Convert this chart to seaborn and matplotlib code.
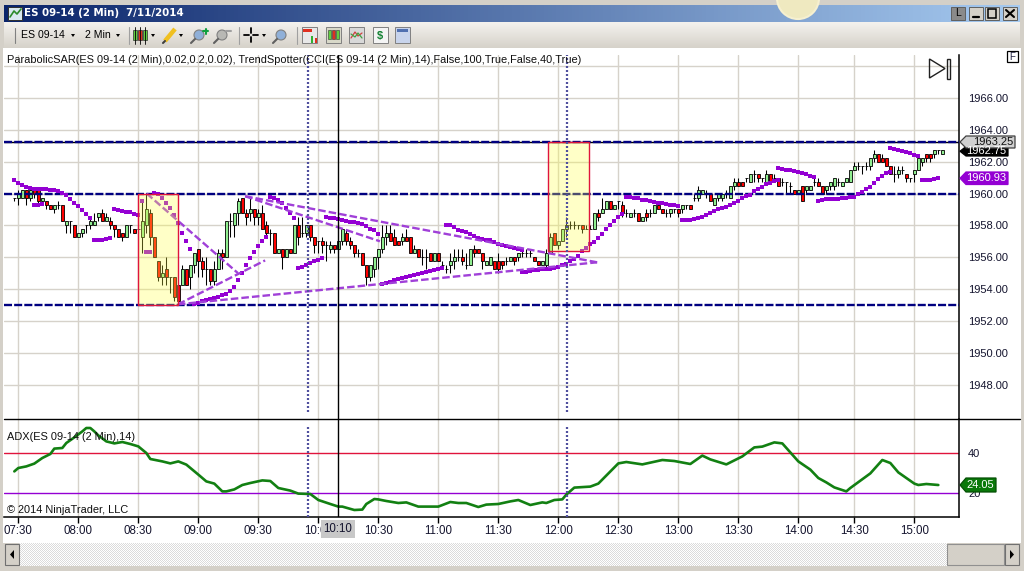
import numpy as np
import pandas as pd
import seaborn as sns
import matplotlib
matplotlib.use("Agg")
import matplotlib.pyplot as plt
from matplotlib.patches import Rectangle, Polygon, Circle

# prices are written minus 1900, one value per 2 minute bar
opens = [59.75,59.75,59.75,60.25,59.75,60.25,60.25,59.5,59.5,59.25,
         59,59.25,59.25,58,58.25,58,57.25,57.5,58,58,
         58,58.5,58.75,58.25,58.25,58,57.75,57.5,57.25,58,
         57.75,57.75,57.25,58,58.75,57.25,55.75,54.75,55.25,54.75,
         54.75,54.25,54.25,55.25,54.75,55.5,56.5,55.75,55.25,55.25,
         54.5,55.25,56.25,56,58.25,58,58.75,59.75,58.75,58.75,
         59,58.5,58.75,58,57.5,57.5,56.25,56.5,56,56.5,
         56.25,58,57.5,57.5,58,57.25,57,57,56.75,56.5,
         56.75,56.5,57,57.5,57,56.75,56.25,56.25,55.5,54.75,
         55.25,56,56.5,57.25,57.5,57.25,57,57,57.25,57.25,
         56.25,56.5,56,56,56.25,55.75,56.25,55.5,55.25,55.5,
         55.75,56,56,55.5,55.5,56.5,56.5,56.25,55.5,55.5,
         55.75,55.75,55.75,55.75,55.75,56,56,56.25,56.25,56.25,
         56,55.75,55.5,55.5,56.25,57.5,56.75,57,57.75,58,
         58,58,58,57.75,57.75,57.75,58.75,58.75,59,59.5,
         59,59.5,59.25,58.75,58.5,58.75,58.75,58.25,58.75,58.75,
         58.75,59.25,59,58.75,58.75,59,59,59,59.25,59.25,
         59.75,59.75,60,60,60,59.25,59.75,59.75,60,59.75,
         60.5,60.75,60.75,61,60.75,61.25,61.25,61,60.75,61.25,
         61,61,60.75,60.75,60.5,60.25,60,60.5,60.25,60.25,
         60.75,60.75,60.5,60.25,60.5,60.5,60.75,60.5,60.75,60.75,
         61.5,61.75,61.75,61.75,61.75,62.25,62.5,62.25,62.25,61.75,
         61.25,61.25,61.5,61.25,61,61.25,61.5,62,62.5,62.5,62.5,62.75,62.5]
highs = [59.75,60.25,60.25,60.25,60.25,60.25,60.25,59.75,59.5,59.25,
         59.25,59.5,59.25,58.25,58.25,58,57.5,57.75,58,58.5,
         58.75,58.75,59,58.75,58.5,58,57.75,57.5,58,58,
         57.75,58,59.5,60,59,57.25,55.75,55.5,56,54.75,
         54.75,54.25,55.5,55.25,55.5,56.25,56.5,56,56,55.25,
         55.75,56.5,56.5,58.25,58.75,58.75,59.75,59.75,59,59.75,
         59,59,59.25,58.25,57.75,57.5,56.5,56.5,56.5,56.5,
         58,58.5,58.5,58,58,57.25,57,57.25,57,57,
         56.75,58,57.75,57.75,57.25,56.75,56.5,56.25,55.5,55.5,
         56,56.5,58,58,58,57.75,57,57.5,57.75,57.25,
         56.75,56.5,56.5,56.5,56.25,56.25,56.25,55.75,55.5,56.25,
         56.5,56.5,56.5,56.25,56.5,56.75,56.5,56.25,55.75,56,
         55.75,56.25,55.75,56,56,56,56.25,56.5,56.5,56.5,
         56,55.75,55.75,56.5,57.5,57.5,57,57.75,58.5,58.25,
         58.25,58,58,58,58,58.75,59,59.75,59.5,59.5,
         59.25,59.5,59.5,59,58.75,59,58.75,58.5,59,59,
         59.25,59.25,59,59,59,59,59,59.25,59.25,59.25,
         60,60.5,60.25,60.25,60,59.75,60,60,60.25,60.5,
         61,61,60.75,61,61.25,61.5,61.25,61,61.5,61.25,
         61.25,61,61,60.75,60.75,60.25,60.25,60.5,60.5,60.5,
         61,61,60.5,60.5,60.75,61,61,60.75,61,61.5,
         62,62,61.75,62,62.25,62.75,62.5,62.5,62.25,61.75,
         61.75,61.75,61.75,61.25,61,61.5,62.25,62.25,62.5,62.5,62.75,62.75,62.75]
lows = [59.5,59.25,59.75,59.25,59.5,59.75,59.25,59.25,59,59,
        58.75,59,58.25,57.5,57.5,57.25,57.25,57.25,57.5,57.75,
        58,58.25,58.25,58.25,57.75,57.25,57.25,57,57.25,57.5,
        57.5,57.5,56.25,57.5,56.75,56,54.5,54.25,54.25,53.75,
        53.25,53.25,54.25,54.25,54,55,54.75,54.75,54.25,54.25,
        54.25,55.25,55.25,56,57.25,57.25,58,58.75,58,58.25,
        58,58,57.75,57.25,56.75,56.25,56.25,55.25,56,56.25,
        56.25,56.75,57.25,57.25,57,56.25,56.25,56.25,55.75,56.25,
        56.25,56.25,56.75,56.75,56.5,56,56,55.5,54.25,54.5,
        54.75,55.25,56.25,56.75,57,56.75,56.75,56.75,57,56.25,
        56.25,56,55.5,55.25,55.75,55.75,55.75,55.25,55,55,
        55.25,55.75,55.5,55.25,55.5,56,56.25,55.25,55.5,55.5,
        55.25,55,55.25,55.5,55.75,55.5,55.75,56,56,56,
        55.75,55.5,55.5,55.25,56.25,56.75,56.5,57,57.25,57.75,
        57.75,57.75,57.5,57.75,57.75,57.75,58.25,58.75,59,59,
        59,59,58.5,58.5,58.5,58.5,58.25,58.25,58.25,58.5,
        58.75,59,58.75,58.5,58.5,58.75,58.5,58.75,59,59,
        59.5,59.5,60,59.75,59.5,59.25,59.5,59.5,59.75,59.75,
        60.25,60.5,60.5,60.75,60.75,60.75,60.75,60.75,60.75,60.75,
        60.75,60.5,60.5,60,60,60,60,59.5,60,60.25,
        60.5,60.5,60,60,60.25,60.25,60.5,60.5,60.75,60.75,
        61.5,61.5,61.25,61.5,61.5,62,62,62,61.75,61.25,
        60.75,61,61.25,60.75,60.75,60.75,61.5,61.75,62,62,62.25,62.5,62.5]
closes = [59.75,60,60.25,59.75,60.25,60,59.5,59.75,59.25,59,
          59.25,59.25,58.25,58.25,58.25,57.25,57.5,57.75,58,58.25,
          58.25,58.75,58.25,58.5,58,57.75,57.25,57.25,58,58,
          57.5,57.75,58.25,59,57.25,56,54.75,55,54.75,54.75,
          53.5,53.25,55.25,54.25,55.5,56.25,55.75,55.25,55.25,54.5,
          55.25,56.25,56,58.25,58.25,58.75,59.5,58.75,58.5,59,
          58.5,58.75,57.75,57.5,57.5,56.25,56.5,56,56.5,56.25,
          58,57.25,57.5,58,57.25,56.75,57,56.75,56.75,56.75,
          56.5,57,57.75,57,56.75,56.25,56.25,55.5,54.75,55.5,
          56,56.5,57.25,57.5,57,56.75,56.75,57.25,57,56.25,
          56.5,56,56,56,55.75,56.25,55.75,55.5,55.25,55.75,
          56,56,55.75,55.5,56.5,56.25,56.25,55.75,55.75,56,
          55.25,55.25,55.5,55.75,56,55.75,56.25,56.25,56.25,56.25,
          55.75,55.5,55.75,56.25,57.25,56.75,57,57.75,58,58,
          58,58,57.75,57.75,57.75,58.75,58.5,59,59.5,59,
          59.25,59.5,58.75,58.75,58.75,58.75,58.25,58.5,58.5,58.75,
          59.25,59,58.75,58.75,59,59,58.75,59.25,59.25,59,
          59.75,60.25,60.25,60,59.5,59.75,60,60,60,60.5,
          60.75,60.5,60.5,61,61.25,61.25,61,61,61.25,60.75,
          61,60.5,60.75,60.75,60.5,60,60.25,59.5,60.5,60.5,
          60.75,60.5,60,60.5,60.75,61,60.75,60.75,61,61.5,
          61.75,61.75,61.75,61.75,62.25,62.5,62,62,61.75,61.25,
          61.25,61.5,61.5,61,61,61.5,62.25,62.25,62.25,62.25,62.75,62.75,62.75]

# parabolic SAR runs: first bar of each run, then its values
sar_starts = [0, 5, 20, 25, 32, 33, 35, 45, 64, 71, 78, 92, 108, 127, 153, 167, 191, 201, 219, 227]
sar_runs = [
    [60.84,60.69,60.55,60.42,60.34,60.27,60.27,60.27,60.27,60.25,60.21,60.17,60.04,59.92,59.66,59.43,59.20,58.97,58.72,58.47],
    [59.27,59.31,59.35],
    [57.07,57.07,57.11,57.15,57.19],
    [59.04,58.99,58.93,58.87,58.81,58.74,58.68],
    [59.52],
    [56.33,56.33],
    [60.04,59.96,59.71,59.41,59.10,58.64,58.16,57.53,57.02,56.50],
    [53.08,53.12,53.25,53.29,53.35,53.44,53.50,53.61,53.67,53.88,54.13,54.57,55.03,55.49,55.97,56.33,56.69,57.02,57.27],
    [59.79,59.71,59.58,59.41,59.08,58.78,58.47],
    [55.32,55.39,55.49,55.62,55.74,55.85,55.93],
    [58.53,58.47,58.45,58.43,58.36,58.28,58.22,58.18,58.16,58.09,57.95,57.80,57.69,57.48],
    [54.30,54.38,54.44,54.57,54.65,54.72,54.78,54.84,54.91,54.97,55.01,55.07,55.14,55.22,55.28,55.32],
    [58.01,58.01,57.90,57.74,57.65,57.61,57.48,57.34,57.23,57.17,57.11,57.07,56.98,56.86,56.79,56.73,56.62,56.56,56.50,56.44],
    [55.05,55.07,55.12,55.18,55.22,55.24,55.26,55.28,55.35,55.41,55.49,55.60,55.77,55.91,56.08,56.37,56.60,56.81,56.98,57.19,57.46,57.76,58.01,58.28,58.55,58.74],
    [59.79,59.77,59.73,59.69,59.62,59.58,59.52,59.48,59.43,59.39,59.33,59.29,59.27,59.20],
    [58.32,58.32,58.34,58.39,58.45,58.53,58.66,58.76,58.89,59.01,59.08,59.18,59.29,59.39,59.54,59.69,59.85,59.92,60.13,60.27,60.44,60.59,60.69,60.78,60.86],
    [61.59,61.55,61.49,61.45,61.40,61.36,61.30,61.22,61.11,61.03],
    [59.56,59.58,59.64,59.66,59.66,59.66,59.69,59.73,59.77,59.81,59.98,60.10,60.27,60.42,60.65,60.90,61.11,61.28,61.38],
    [62.85,62.79,62.73,62.64,62.58,62.52,62.43,62.37],
    [60.82,60.86,60.88,60.92,60.99],
]

# ADX read at the bends of the curve
adx_bars = [0,1,3,5,7,9,10,12,13,15,17,18,19,20,21,23,25,27,29,31,33,34,36,37,39,41,43,46,48,50,
            52,53,55,57,59,62,64,66,69,71,74,76,79,81,82,85,87,88,90,91,93,96,98,101,106,109,111,113,116,118,
            121,124,126,129,132,133,135,137,138,140,144,146,151,153,157,162,165,169,172,174,178,182,185,187,190,192,
            196,199,201,203,205,208,209,214,217,219,221,225,226,228,231]
adx_vals = [30.8,32.5,33.3,34.7,37.5,39.5,42.2,42.5,45,47.8,50.8,52.5,52.5,50.8,48.8,45.8,44.8,45.5,44.5,43.3,40,37,36.2,35.8,34.8,35.8,34.2,29.2,25.8,24.7,
            20.8,20.8,21.8,24,25,26.3,26,22.5,21.2,19.7,19.5,16.5,14.5,13.2,13.2,11.5,11.7,14.5,17,16.8,16,15,15.3,13.2,13.2,15.5,15,15,13,14.2,
            14.5,15.8,16.5,14,15.3,15,16.5,16.8,19.2,22.7,23.2,24.7,34.8,35.5,34.3,36.5,36,34.5,38.7,36.8,34.3,38.3,42.8,43.2,45.3,44.8,
            35.8,31.7,27.5,25.3,22.8,20.8,22.5,29.8,36.5,35,30.3,24.7,24,24.5,24]

# drawn trend lines: bar, price, bar, price
trend_lines = [(33.1,1960.0,55.9,1955.0), (40.9,1953.04,62.7,1955.8), (40.9,1953.04,145.7,1955.68),
               (57.7,1959.83,145.7,1955.68), (57.7,1959.83,91.4,1957.0)]
level_lines = [1963.25, 1960.0, 1953.0]
boxes = [(30.8,40.9,1953.0,1960.0), (133.5,143.7,1956.4,1963.25)]
time_ticks = [1,16,31,46,61,76,91,106,121,136,151,166,181,196,210,225]
time_labels = ["07:30","08:00","08:30","09:00","09:30","10:00","10:30","11:00","11:30","12:00",
               "12:30","13:00","13:30","14:00","14:30","15:00"]
price_ticks = [1948,1950,1952,1954,1956,1958,1960,1962,1964,1966,1968]
marker_bars = [73.5, 138.2]
cross_bar = 81
cross_price = 1963.25

GRID = "#D6D2CA"
VIOLET = "#9400D3"
TEXT = "#14142E"
W, H = 1024, 571

sns.set_theme(style="white")
plt.rcParams["font.family"] = ["Liberation Sans", "DejaVu Sans"]

bars = pd.DataFrame({"open": opens, "high": highs, "low": lows, "close": closes}) + 1900
bars["bar"] = bars.index
sar = pd.DataFrame([(s + k, 1900 + v) for s, run in zip(sar_starts, sar_runs) for k, v in enumerate(run)],
                   columns=["bar", "price"])
adx = pd.DataFrame({"bar": adx_bars, "value": adx_vals})

fig = plt.figure(figsize=(W / 100, H / 100), dpi=100, facecolor="#D4D0C8")


def px_axes(zorder):
    a = fig.add_axes([0, 0, 1, 1], zorder=zorder)
    a.set_xlim(0, W)
    a.set_ylim(H, 0)
    a.axis("off")
    a.patch.set_alpha(0)
    return a


def panel(top, bottom):
    return fig.add_axes([4 / W, 1 - bottom / H, 955 / W, (bottom - top) / H], zorder=2)


# window chrome
back = px_axes(0)
back.add_patch(Rectangle((3, 48), 1018, 495, fc="white", ec="none"))
back.imshow(np.linspace(0, 1, 256).reshape(1, -1), extent=(4, 1020, 22, 5), aspect="auto",
            cmap=matplotlib.colors.LinearSegmentedColormap.from_list("t", ["#0A246A", "#A6CAF0"]))
back.imshow(np.linspace(0, 1, 32).reshape(-1, 1), extent=(4, 1020, 48, 22), aspect="auto",
            cmap=matplotlib.colors.LinearSegmentedColormap.from_list("b", ["#F4F2EE", "#D6D2CA"]))
checker = np.indices((23, 928)).sum(axis=0) % 2
back.imshow(checker, extent=(19, 947, 566, 543), aspect="auto", cmap="gray", vmin=-6, vmax=1,
            interpolation="nearest")
back.set_xlim(0, W)
back.set_ylim(H, 0)
back.add_patch(Circle((798, -2), 21, fc="#EFE9C0", ec="#F6F0D0", lw=1.5))
back.add_patch(Rectangle((8, 7), 14, 13, fc="#D8E8F0", ec="#303030", lw=0.7))
back.plot([10, 14, 17, 21], [17, 11, 14, 9], color="#2A8A2A", lw=1.2)
back.text(24, 13.5, "ES 09-14 (2 Min)  7/11/2014", color="white", fontsize=8.2, fontweight="bold",
          family="DejaVu Sans", stretch="condensed", va="center")
for x0, label in [(951, "L"), (969, "_"), (985, ""), (1003, "x")]:
    back.add_patch(Rectangle((x0, 7), 14, 13, fc="#8A8A8A" if label == "L" else "#D4D0C8",
                             ec="#606060", lw=0.7))
back.text(958, 13.5, "L", fontsize=7.5, color="black", ha="center", va="center")
back.plot([973, 979], [17, 17], color="black", lw=1.6)
back.add_patch(Rectangle((988, 9), 8, 9, fc="none", ec="black", lw=1.1))
back.plot([1006, 1014], [10, 17], color="black", lw=1.5)
back.plot([1006, 1014], [17, 10], color="black", lw=1.5)

# toolbar
back.plot([15, 15], [28, 43], color="#808080", lw=0.8)
back.text(21, 35.5, "ES 09-14", fontsize=7.6, color="black", va="center")
back.text(85, 35.5, "2 Min", fontsize=7.6, color="black", va="center")
for x0 in [73, 118, 153, 181, 264]:
    back.add_patch(Polygon([(x0 - 2, 34), (x0 + 2, 34), (x0, 37)], fc="black", ec="none"))
for x0 in [129, 239, 297]:
    back.plot([x0, x0], [27, 44], color="#A0A0A0", lw=0.8)
for x0, col in [(135, "#60D040"), (140, "#E03020"), (145, "#60D040")]:
    back.plot([x0, x0], [27, 44], color="black", lw=0.6)
    back.add_patch(Rectangle((x0 - 2, 30), 4, 10, fc=col, ec="#303030", lw=0.5))
back.plot([165, 175], [41, 29], color="#F0C020", lw=3.2, solid_capstyle="butt")
back.plot([163, 165], [43, 41], color="#404040", lw=1.5)
for x0, col in [(199, "#90B0D8"), (222, "#B8B8B4"), (281, "#90B0D8")]:
    back.add_patch(Circle((x0, 35), 5, fc=col, ec="#808080", lw=0.8))
    back.plot([x0 - 4, x0 - 8], [39, 43], color="#606060", lw=1.5)
back.plot([203, 208, None, 205.5, 205.5], [31, 31, None, 28.5, 33.5], color="#10A040", lw=1.5)
back.plot([226, 231], [31, 31], color="#A0A0A0", lw=1.5)
back.plot([244, 249, None, 253, 258, None, 251, 251, None, 251, 251], [35, 35, None, 35, 35, None, 28, 33, None, 37, 42],
          color="black", lw=1.3)
for x0, face in [(302, "#E8E8E8"), (326, "#D8D8C8"), (349, "#D8D8D8"), (373, "#F4F4F4"), (395, "#C8D4EC")]:
    back.add_patch(Rectangle((x0, 27), 15, 16, fc=face, ec="#808080", lw=0.7))
back.add_patch(Rectangle((303, 29), 9, 3, fc="#E03020", ec="none"))
back.add_patch(Rectangle((311, 36), 2, 7, fc="#30B030", ec="none"))
back.add_patch(Rectangle((315, 38), 2, 5, fc="#E03020", ec="none"))
for x0, col in [(329, "#60D040"), (333, "#E03020"), (337, "#60D040")]:
    back.add_patch(Rectangle((x0 - 1.5, 30), 3, 9, fc=col, ec="#303030", lw=0.4))
back.plot([351, 355, 358, 362], [38, 32, 36, 33], color="#D04040", lw=0.9)
back.plot([351, 355, 358, 362], [34, 37, 33, 38], color="#40A040", lw=0.9)
back.text(380, 35.5, "$", fontsize=8, color="#108030", fontweight="bold", ha="center", va="center")
back.add_patch(Rectangle((397, 29), 11, 3, fc="#5070B0", ec="none"))

# scrollbar buttons
back.add_patch(Rectangle((5, 544), 14, 21, fc="#D4D0C8", ec="#707070", lw=0.8))
back.add_patch(Polygon([(14, 550), (14, 559), (10, 554.5)], fc="black", ec="none"))
back.add_patch(Rectangle((947, 544), 57, 21, fc="#D4D0C8", ec="#909090", lw=0.8))
back.add_patch(Rectangle((1005, 544), 14, 21, fc="#D4D0C8", ec="#707070", lw=0.8))
back.add_patch(Polygon([(1010, 550), (1010, 559), (1014, 554.5)], fc="black", ec="none"))

# price panel
ax = panel(55, 418.5)
ax.patch.set_alpha(0)
ax.set_xlim(-2.58, 236.17)
ax.set_ylim(1945.87, 1968.7)
ax.set_xticks(time_ticks)
ax.set_xticklabels([])
ax.tick_params(axis="x", length=0)
ax.yaxis.tick_right()
ax.set_yticks(price_ticks)
ax.set_yticklabels([f"{p:.2f}" if p < 1968 else "" for p in price_ticks], fontsize=8.0, color=TEXT)
ax.tick_params(axis="y", length=5, width=1, color="black", pad=1.5, right=True)
ax.grid(True, color=GRID, lw=1.0, zorder=0)
ax.set_axisbelow(True)

up = bars["close"] >= bars["open"]
ax.vlines(bars["bar"], bars["low"], bars["high"], color="black", lw=0.75, zorder=3)
ax.bar(bars["bar"], (bars["close"] - bars["open"]).abs(), bottom=bars[["open", "close"]].min(axis=1),
       width=0.8, color=np.where(up, "#90EE90", "#FF0000"), edgecolor="black", lw=0.6, zorder=3)

ax.axhline(cross_price, color="black", lw=1.0, zorder=3)
for level in level_lines:
    ax.axhline(level, color="#000080", lw=1.7, dashes=(3.4, 0.9), zorder=3.5)

sns.scatterplot(data=sar, x="bar", y="price", marker="s", s=12, color=VIOLET, linewidth=0, ax=ax, zorder=4)
for x0, y0, x1, y1 in trend_lines:
    ax.plot([x0, x1], [y0, y1], color="#A040D8", lw=1.7, dashes=(3.2, 1.3), zorder=5)
for x0, x1, y0, y1 in boxes:
    ax.add_patch(Rectangle((x0, y0), x1 - x0, y1 - y0, fc="#FFFF46", alpha=0.3, ec="none", zorder=6))
    ax.add_patch(Rectangle((x0, y0), x1 - x0, y1 - y0, fc="none", ec="#E0143C", lw=1.0, zorder=6))
for b in marker_bars:
    ax.axvline(b, ymin=0.018, color="#50509E", lw=1.6, dashes=(0.9, 0.9), zorder=6)
ax.axvline(cross_bar, color="black", lw=1.0, zorder=7)
ax.set_xlabel("")
ax.set_ylabel("")
sns.despine(ax=ax, top=True, left=True, right=False, bottom=True)
ax.spines["right"].set_color("black")
ax.spines["right"].set_linewidth(1.1)

# ADX panel
ax2 = panel(418.5, 516.5)
ax2.patch.set_alpha(0)
ax2.set_xlim(-2.58, 236.17)
ax2.set_ylim(8.25, 57.25)
ax2.set_xticks(time_ticks)
ax2.set_xticklabels(time_labels, fontsize=8.3, color=TEXT)
ax2.tick_params(axis="x", length=4, width=1, color="black", pad=1.8, bottom=True)
ax2.yaxis.tick_right()
ax2.set_yticks([20, 40])
ax2.set_yticklabels(["20", "40"], fontsize=8.0, color=TEXT)
ax2.tick_params(axis="y", length=5, width=1, color="black", pad=1.5, right=True)
ax2.grid(True, axis="x", color=GRID, lw=1.0, zorder=0)
ax2.set_axisbelow(True)
ax2.axhline(40, color="#E0143C", lw=1.0, zorder=2)
ax2.axhline(20, color=VIOLET, lw=1.0, zorder=2)
sns.lineplot(data=adx, x="bar", y="value", color="#128012", lw=1.9, ax=ax2, zorder=4)
for b in marker_bars:
    ax2.axvline(b, ymax=0.934, color="#50509E", lw=1.6, dashes=(0.9, 0.9), zorder=5)
ax2.axvline(cross_bar, color="black", lw=1.0, zorder=6)
ax2.set_xlabel("")
ax2.set_ylabel("")
sns.despine(ax=ax2, top=True, left=True, right=False, bottom=False)
for side in ["right", "bottom"]:
    ax2.spines[side].set_color("black")
    ax2.spines[side].set_linewidth(1.1)

# overlays: captions, value tags and the panel divider
over = px_axes(5)
over.plot([4, 1020], [418.5, 418.5], color="black", lw=1.0)
over.text(7, 60, "ParabolicSAR(ES 09-14 (2 Min),0.02,0.2,0.02), TrendSpotter(CCI(ES 09-14 (2 Min),14),False,100,True,False,40,True)",
          fontsize=7.95, color="#101010", va="center")
over.text(7, 436.5, "ADX(ES 09-14 (2 Min),14)", fontsize=7.95, color="#101010", va="center")
over.text(7, 510, "\u00a9 2014 NinjaTrader, LLC", fontsize=7.95, color="#101010", va="center")
over.text(338, 529, "10:10", fontsize=8.3, color=TEXT, ha="center", va="center", zorder=3,
          bbox=dict(boxstyle="square,pad=0.22", fc="#C8C8C8", ec="none"))

# skip-to-end button and F box
over.add_patch(Polygon([(929.5, 59), (945, 68.5), (929.5, 78)], fc="none", ec="#202020", lw=1.0))
over.add_patch(Rectangle((946.5, 58.5), 3, 20, fc="none", ec="#202020", lw=1.0))
over.add_patch(Rectangle((1007, 51), 11, 11, fc="white", ec="black", lw=0.9))
over.text(1012.5, 56.5, "F", fontsize=7, color="#202040", ha="center", va="center")


def tag(y0, y1, right, label, face, edge, color, size=8.0):
    mid = (y0 + y1) / 2
    over.add_patch(Polygon([(960, mid), (966, y0), (right, y0), (right, y1), (966, y1)], fc=face, ec=edge, lw=0.9))
    over.text(right - 2, mid, label, fontsize=size, color=color, ha="right", va="center")


tag(146.5, 156, 1008, "1962.75", "black", "black", "white")
tag(136, 148, 1015, "1963.25", "#D0D0D0", "#404040", "#101010")
tag(172, 184.5, 1008, "1960.93", VIOLET, VIOLET, "white")
tag(478, 492, 996, "24.05", "#0A780A", "#055005", "white")

fig.savefig("out.png", dpi=100, facecolor=fig.get_facecolor())
